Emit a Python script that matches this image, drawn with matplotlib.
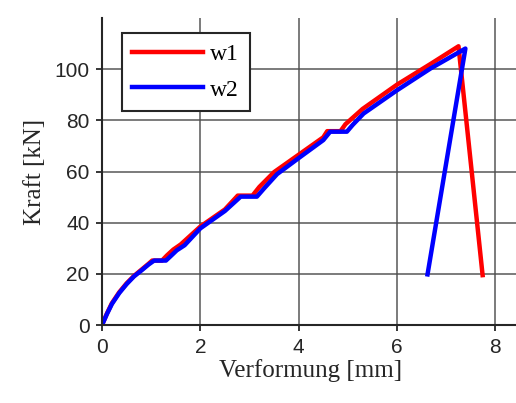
import numpy as np
import matplotlib.pyplot as plt

plt.rcParams.update({
    "font.family": "Liberation Sans",
    "axes.linewidth": 1.5,
    "xtick.labelsize": 15,
    "ytick.labelsize": 15,
})

# Verformung [mm] / Kraft [kN]
w1_x = [0, 0.1, 0.2, 0.35, 0.5, 0.65, 0.8, 0.95, 1.02, 1.22, 1.32, 1.45, 1.6,
        2.0, 2.5, 2.76, 3.06, 3.2, 3.5, 4.0, 4.5, 4.58, 4.85, 4.95, 5.3,
        6.0, 6.7, 7.25, 7.74]
w1_y = [0, 4.5, 8.5, 12.8, 16.3, 19.2, 21.6, 24.0, 25.2, 25.2, 27.2, 29.5, 31.5,
        38.5, 45.2, 50.6, 50.6, 54.0, 59.8, 66.6, 73.4, 75.8, 75.8, 78.5, 84.5,
        94.0, 102.3, 109.0, 19.5]
w2_x = [0, 0.1, 0.2, 0.35, 0.5, 0.65, 0.8, 0.95, 1.06, 1.3, 1.4, 1.52, 1.68,
        2.0, 2.5, 2.82, 3.15, 3.3, 3.56, 4.03, 4.5, 4.64, 4.98, 5.1, 5.32,
        6.0, 6.68, 7.39, 6.62]
w2_y = [0, 4.3, 8.2, 12.5, 16.0, 19.0, 21.3, 23.7, 25.2, 25.2, 27.0, 29.2, 31.2,
        37.8, 44.6, 50.2, 50.2, 53.5, 59.0, 65.7, 72.3, 75.6, 75.6, 78.3, 82.7,
        91.8, 100.3, 108.1, 19.8]

fig = plt.figure(figsize=(5.16, 4.03), dpi=100)
ax = fig.add_axes([0.1977, 0.1935, 0.81, 0.7615])

ax.plot(w1_x, w1_y, color="#ff0000", lw=3.2, label="w1")
ax.plot(w2_x, w2_y, color="#0000ff", lw=3.2, label="w2")

ax.set_xlim(0, 8.5)
ax.set_ylim(0, 120)
ax.set_xticks([0, 2, 4, 6, 8])
ax.set_yticks([0, 20, 40, 60, 80, 100])
ax.grid(True, color="0.3", lw=1.3, alpha=0.8)
ax.set_axisbelow(True)

for s in ["top", "right"]:
    ax.spines[s].set_visible(False)
for s in ["left", "bottom"]:
    ax.spines[s].set_color("#262626")
ax.tick_params(direction="out", length=4, width=1.3, color="#262626",
               labelcolor="#262626", pad=5)

ax.set_xlabel("Verformung [mm]", family="Liberation Serif", fontsize=18,
              color="#262626", labelpad=2)
ax.set_ylabel("Kraft [kN]", family="Liberation Serif", fontsize=18,
              color="#262626", labelpad=6)

leg = ax.legend(loc="upper left", bbox_to_anchor=(0.047, 0.952),
                prop={"family": "Liberation Serif", "size": 17},
                fancybox=False, framealpha=1, edgecolor="#262626",
                handlelength=3.0, handletextpad=0.3, borderpad=0.45,
                labelspacing=0.6, borderaxespad=0)
leg.get_frame().set_linewidth(1.5)

fig.savefig("out.png", dpi=100)
